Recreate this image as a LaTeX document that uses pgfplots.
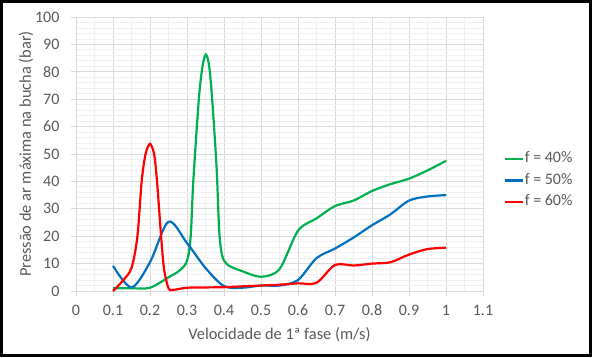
\documentclass[border=0pt]{standalone}
\usepackage{pgfplots}
\pgfplotsset{compat=1.18}
\usepackage{fontspec}
\setmainfont{Carlito}
\definecolor{txt}{HTML}{595959}
\definecolor{gmaj}{HTML}{D9D9D9}
\definecolor{gmin}{HTML}{F0F0F0}
\definecolor{cgreen}{HTML}{00B050}
\definecolor{cblue}{HTML}{0070C0}
\definecolor{cred}{HTML}{FF0000}
\begin{document}
\begin{tikzpicture}[x=1pt,y=1pt]
\path[use as bounding box] (-76,-66) rectangle (516,291);
\begin{axis}[
  at={(0,0)}, anchor=south west,
  scale only axis, width=407pt, height=274pt,
  xmin=0, xmax=1.1, ymin=0, ymax=100,
  xtick={0,0.1,...,1.1}, ytick={0,10,...,100},
  xticklabels={0,0.1,0.2,0.3,0.4,0.5,0.6,0.7,0.8,0.9,1,1.1},
  minor x tick num=1, minor y tick num=4,
  grid=both,
  major grid style={gmaj, line width=0.9pt},
  minor grid style={gmin, line width=0.8pt},
  axis line style={gmaj, line width=0.9pt},
  xtick pos=bottom, ytick pos=left,
  tick align=outside,
  major tick length=5pt, minor tick length=0pt,
  tick style={gmaj, line width=0.9pt},
  /pgf/number format/assume math mode=true,
  tick label style={font=\fontsize{16}{19}\selectfont, text=txt},
  xticklabel style={yshift=-5.5pt},
  yticklabel style={xshift=-8pt},
  xlabel={Velocidade de 1ª fase (m/s)},
  ylabel={Pressão de ar máxima na bucha (bar)},
  xlabel style={font=\fontsize{16.4}{19}\selectfont, text=txt,
    at={(axis description cs:0.5,-0.16)}, anchor=center},
  ylabel style={font=\fontsize{16.4}{19}\selectfont, text=txt,
    at={(axis description cs:-0.123,0.5)}, anchor=center},
  legend style={at={(1.05,0.403)}, anchor=west, draw=none, fill=none,
    font=\fontsize{16}{19}\selectfont, text=txt, row sep=5pt,
    inner sep=0pt, nodes={inner sep=1pt, text height=11pt, text depth=3.5pt}},
  legend cell align=left,
  legend image code/.code={\draw[#1, line width=2.2pt] (0pt,0pt) -- (18pt,0pt);},
  every axis plot/.append style={line width=2.2pt, smooth, tension=0.5, no markers},
]
\addplot[cgreen] coordinates {
(0.1,1) (0.15,1) (0.2,1.2) (0.25,5) (0.28,7.5) (0.3,11) (0.31,20) (0.317,40)
(0.332,70) (0.342,82) (0.351,86.3) (0.36,82) (0.368,70) (0.38,45) (0.387,22)
(0.395,13) (0.41,9.5) (0.45,7.2)
(0.5,5.2) (0.55,8) (0.6,22) (0.65,26.5) (0.7,31) (0.75,33) (0.8,36.5)
(0.85,39) (0.9,41) (0.95,44) (1.0,47.5)};
\addlegendentry{f = 40\%}
\addplot[cblue] coordinates {
(0.1,9.2) (0.15,1.3) (0.2,10.5) (0.25,25.3) (0.3,17.5) (0.35,8.4) (0.4,1.8)
(0.45,1.2) (0.5,2) (0.55,2) (0.6,4) (0.65,12) (0.7,15.5) (0.75,19.5)
(0.8,24) (0.85,28) (0.9,33) (0.95,34.5) (1.0,35)};
\addlegendentry{f = 50\%}
\addplot[cred] coordinates {
(0.1,0) (0.125,3.5) (0.15,8.4) (0.166,20) (0.1775,40) (0.188,50) (0.2,53.7)
(0.211,50) (0.219,40) (0.23,20) (0.238,8) (0.25,1) (0.262,0.4) (0.3,1.2)
(0.35,1.3) (0.4,1.4)
(0.45,1.7) (0.5,2) (0.55,2.3) (0.6,2.8) (0.65,3) (0.7,9.5) (0.75,9.3)
(0.8,10) (0.85,10.5) (0.9,13.3) (0.95,15.3) (1.0,15.8)};
\addlegendentry{f = 60\%}
\end{axis}
\draw[black, line width=3pt] (-74.5,-64.5) rectangle (514.5,289.5);
\end{tikzpicture}
\end{document}
